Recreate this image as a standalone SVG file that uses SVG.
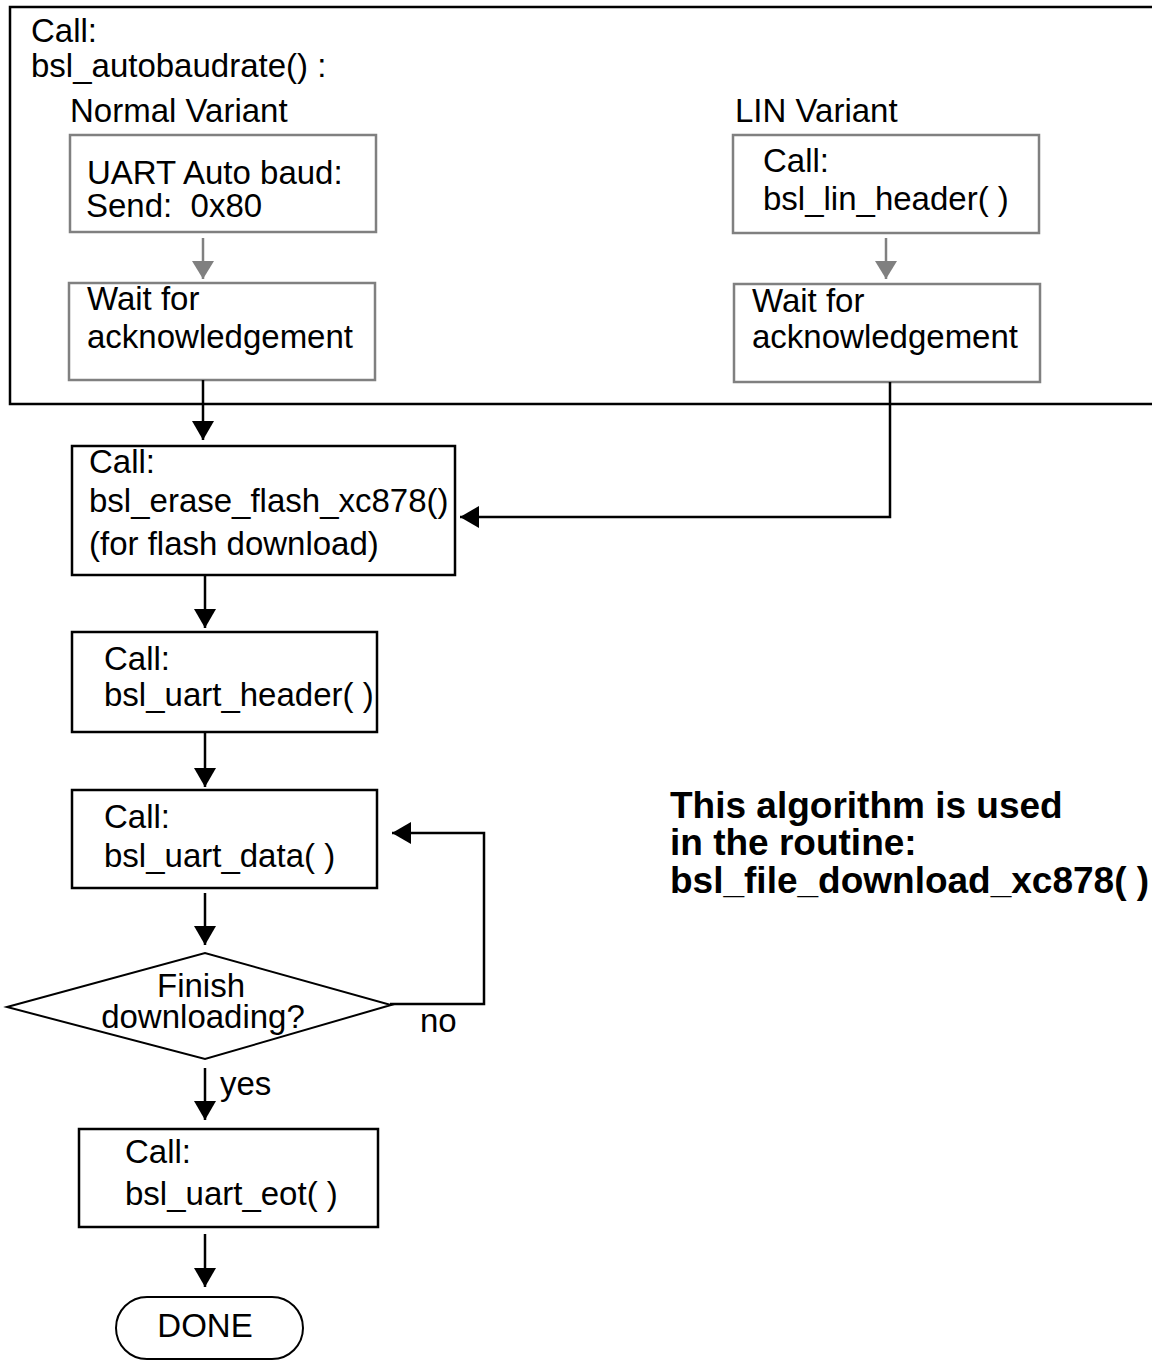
<svg xmlns="http://www.w3.org/2000/svg" width="1152" height="1360" viewBox="0 0 1152 1360">
<style>
text{font-family:"Liberation Sans",Arial,sans-serif;font-size:33px;fill:#000;white-space:pre}
.b{font-weight:bold;font-size:37px}
.box{fill:#fff;stroke:#000;stroke-width:2.5}
.gbox{fill:#fff;stroke:#808080;stroke-width:2.5}
.ln{fill:none;stroke:#000;stroke-width:2.5}
.gln{fill:none;stroke:#808080;stroke-width:2.5}
</style>
<defs>
<marker id="ah" markerUnits="userSpaceOnUse" viewBox="0 0 19 22" markerWidth="19" markerHeight="22" refX="19" refY="11" orient="auto"><path d="M0,0 L19,11 L0,22 z" fill="#000"/></marker>
<marker id="gah" markerUnits="userSpaceOnUse" viewBox="0 0 18 22" markerWidth="18" markerHeight="22" refX="18" refY="11" orient="auto"><path d="M0,0 L18,11 L0,22 z" fill="#808080"/></marker>
</defs>
<g id="autobaud">
<path class="ln" d="M1152,7 H10 V404 H1152"/>
<text x="31" y="42">Call:</text>
<text x="31" y="77">bsl_autobaudrate() :</text>
<text x="70" y="122">Normal Variant</text>
<text x="735" y="122">LIN Variant</text>
</g>
<g id="uart-autobaud">
<rect class="gbox" x="70" y="135" width="306" height="97"/>
<text x="87" y="184">UART Auto baud:</text>
<text x="86" y="217" xml:space="preserve">Send:  0x80</text>
</g>
<g id="wait-normal">
<rect class="gbox" x="69" y="283" width="306" height="97"/>
<text x="87" y="310">Wait for</text>
<text x="87" y="348">acknowledgement</text>
</g>
<g id="lin-header">
<rect class="gbox" x="733" y="135" width="306" height="98"/>
<text x="763" y="172">Call:</text>
<text x="763" y="210">bsl_lin_header( )</text>
</g>
<g id="wait-lin">
<rect class="gbox" x="734" y="284" width="306" height="98"/>
<text x="752" y="312">Wait for</text>
<text x="752" y="348">acknowledgement</text>
</g>
<g id="erase">
<rect class="box" x="72" y="446" width="383" height="129"/>
<text x="89" y="473">Call:</text>
<text x="89" y="512">bsl_erase_flash_xc878()</text>
<text x="89" y="555">(for flash download)</text>
</g>
<g id="uart-header">
<rect class="box" x="72" y="632" width="305" height="100"/>
<text x="104" y="670">Call:</text>
<text x="104" y="706">bsl_uart_header( )</text>
</g>
<g id="uart-data">
<rect class="box" x="72" y="790" width="305" height="98"/>
<text x="104" y="828">Call:</text>
<text x="104" y="867">bsl_uart_data( )</text>
</g>
<g id="finish">
<polygon points="7,1007 205,953 391,1005 205,1059" fill="#fff" stroke="#000" stroke-width="2"/>
<text x="201" y="997" text-anchor="middle">Finish</text>
<text x="203" y="1028" text-anchor="middle">downloading?</text>
</g>
<g id="uart-eot">
<rect class="box" x="79" y="1129" width="299" height="98"/>
<text x="125" y="1163">Call:</text>
<text x="125" y="1205">bsl_uart_eot( )</text>
</g>
<g id="done">
<rect x="116" y="1297" width="187" height="62" rx="31" ry="31" fill="#fff" stroke="#000" stroke-width="2"/>
<text x="205" y="1337" text-anchor="middle">DONE</text>
</g>
<g id="note">
<text class="b" x="670" y="818">This algorithm is used</text>
<text class="b" x="670" y="855">in the routine:</text>
<text class="b" x="670" y="893">bsl_file_download_xc878( )</text>
</g>
<g id="connectors">
<path class="gln" d="M203,238 V279" marker-end="url(#gah)"/>
<path class="gln" d="M886,238 V279" marker-end="url(#gah)"/>
<path class="ln" d="M203,380 V440" marker-end="url(#ah)"/>
<path class="ln" d="M890,382 V517 H460" marker-end="url(#ah)"/>
<path class="ln" d="M205,575 V628" marker-end="url(#ah)"/>
<path class="ln" d="M205,733 V787" marker-end="url(#ah)"/>
<path class="ln" d="M205,893 V945" marker-end="url(#ah)"/>
<path class="ln" d="M390,1004 H484 V833 H392" marker-end="url(#ah)"/>
<path class="ln" d="M205,1068 V1120" marker-end="url(#ah)"/>
<path class="ln" d="M205,1234 V1287" marker-end="url(#ah)"/>
<text x="420" y="1032">no</text>
<text x="220" y="1095">yes</text>
</g>
</svg>
